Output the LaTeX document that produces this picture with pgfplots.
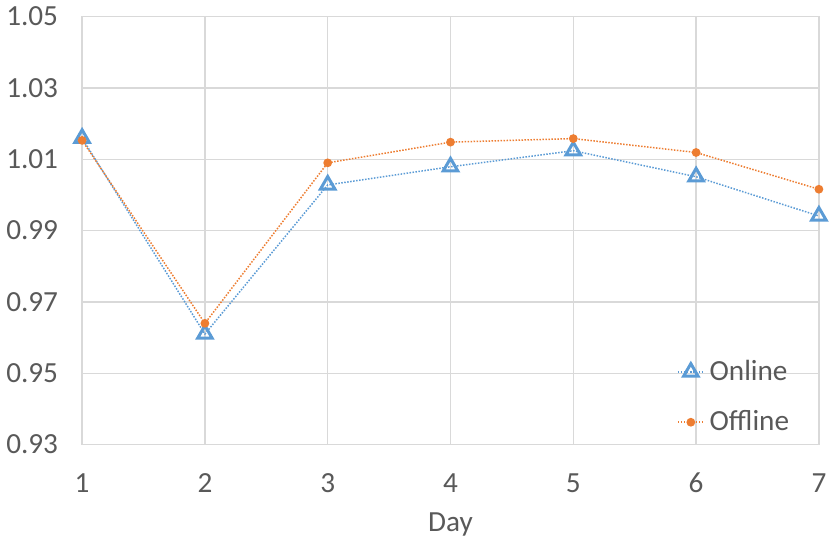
\documentclass[border=0pt]{standalone}
\usepackage{fontspec}
\setmainfont{Carlito}
\usepackage{pgfplots}
\pgfplotsset{compat=1.18}
\definecolor{cblue}{HTML}{5B9BD5}
\definecolor{corange}{HTML}{ED7D31}
\definecolor{ctext}{HTML}{595959}
\definecolor{cgrid}{HTML}{D9D9D9}
\begin{document}
\begin{tikzpicture}
\path[use as bounding box] (-41.05pt,-48.2pt) rectangle (373.95pt,222.3pt);
\begin{axis}[
  scale only axis, width=368.4pt, height=214pt,
  xmin=1, xmax=7, ymin=0.93, ymax=1.05,
  xtick={1,2,3,4,5,6,7},
  ytick={0.93,0.95,0.97,0.99,1.01,1.03,1.05},
  grid=major, grid style={cgrid, line width=0.75pt},
  axis line style={cgrid, line width=0.75pt},
  major tick length=0pt, tick style={draw=none},
  font=\fontsize{14.6}{17}\selectfont,
  every tick label/.append style={text=ctext},
  /pgf/number format/assume math mode=true,
  yticklabel style={/pgf/number format/fixed, /pgf/number format/precision=2, /pgf/number format/fixed zerofill, anchor=east, xshift=-8.5pt},
  xticklabel style={anchor=base, yshift=-24pt},
  xlabel={Day},
  xlabel style={at={(axis description cs:0.5,0)}, anchor=base, yshift=-43.5pt, text=ctext},
  legend style={at={(0.807,0.207)}, anchor=north west, draw=none, fill=none, text=ctext, font=\fontsize{14.6}{17}\selectfont, row sep=9.5pt, inner sep=0pt, nodes={inner xsep=2.5pt}},
  legend cell align=left,
  legend image code/.code={\draw[mark repeat=2,mark phase=2,#1] plot coordinates {(0pt,0pt) (6.5pt,0pt) (13pt,0pt)};},
]
\addplot[cblue, line width=0.75pt, dash pattern=on 0.75pt off 0.75pt, mark=triangle, mark size=4.2pt, mark options={solid, line width=1.5pt, fill=white}]
  coordinates {(1,1.0159) (2,0.9610) (3,1.0028) (4,1.0079) (5,1.0124) (6,1.0051) (7,0.9941)};
\addlegendentry{Online}
\addplot[corange, line width=0.75pt, dash pattern=on 0.75pt off 0.75pt, mark=*, mark size=1.8pt, mark options={solid, fill=corange, draw=corange}]
  coordinates {(1,1.0153) (2,0.9640) (3,1.0090) (4,1.0148) (5,1.0158) (6,1.0119) (7,1.0016)};
\addlegendentry{Offline}
\end{axis}
\end{tikzpicture}
\end{document}
